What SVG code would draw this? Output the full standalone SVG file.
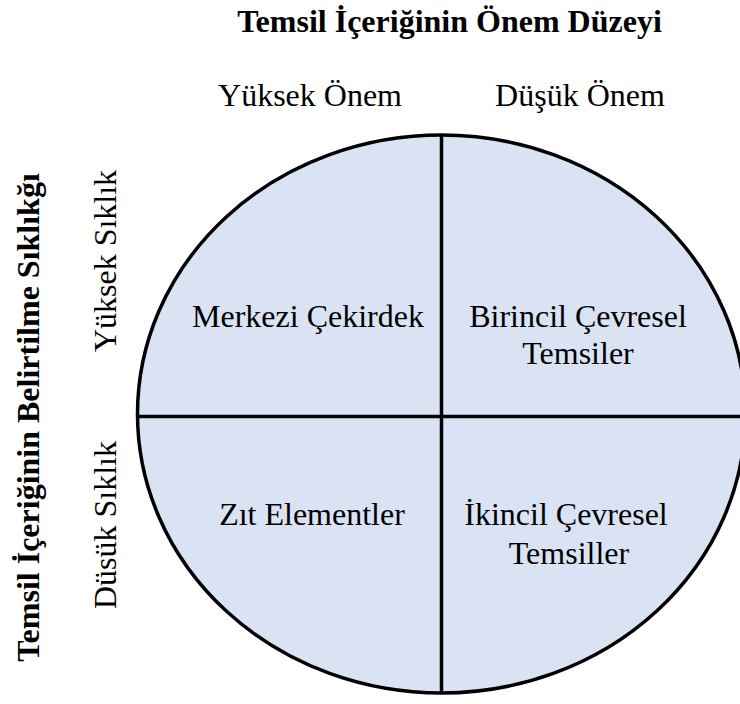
<svg xmlns="http://www.w3.org/2000/svg" width="740" height="704" viewBox="0 0 740 704">
  <style>
    text { font-family: "Liberation Serif", "Times New Roman", serif; fill: #000; }
    .b { font-weight: bold; font-size: 32px; }
    .r { font-size: 32px; }
    .m { text-anchor: middle; }
    .line { stroke: #000; stroke-width: 3.5; fill: none; }
  </style>
  <rect width="740" height="704" fill="#fff"/>
  <g id="circle">
    <ellipse cx="441.5" cy="414" rx="304" ry="279" fill="#DAE3F3" stroke="#000" stroke-width="3.5"/>
  </g>
  <g id="connectors">
    <line class="line" x1="441.5" y1="135" x2="441.5" y2="693"/>
    <line class="line" x1="138" y1="416.5" x2="746" y2="416.5"/>
  </g>
  <g id="title-top"><text class="b m" x="449.5" y="32">Temsil İçeriğinin Önem Düzeyi</text></g>
  <g id="col-high"><text class="r m" x="310" y="106">Yüksek Önem</text></g>
  <g id="col-low"><text class="r m" x="580" y="106">Düşük Önem</text></g>
  <g id="title-left"><text class="b m" transform="translate(39,417.5) rotate(-90)">Temsil İçeriğinin Belirtilme Sıklıkğı</text></g>
  <g id="row-high"><text class="r m" transform="translate(116,261) rotate(-90)">Yüksek Sıklık</text></g>
  <g id="row-low"><text class="r m" transform="translate(116,525) rotate(-90)">Düsük Sıklık</text></g>
  <g id="q1"><text class="r m" x="308" y="327">Merkezi Çekirdek</text></g>
  <g id="q2"><text class="r m" x="578" y="327">Birincil Çevresel</text><text class="r m" x="578" y="364">Temsiler</text></g>
  <g id="q3"><text class="r m" x="312" y="525">Zıt Elementler</text></g>
  <g id="q4"><text class="r m" x="566" y="525">İkincil Çevresel</text><text class="r m" x="569" y="564">Temsiller</text></g>
</svg>
